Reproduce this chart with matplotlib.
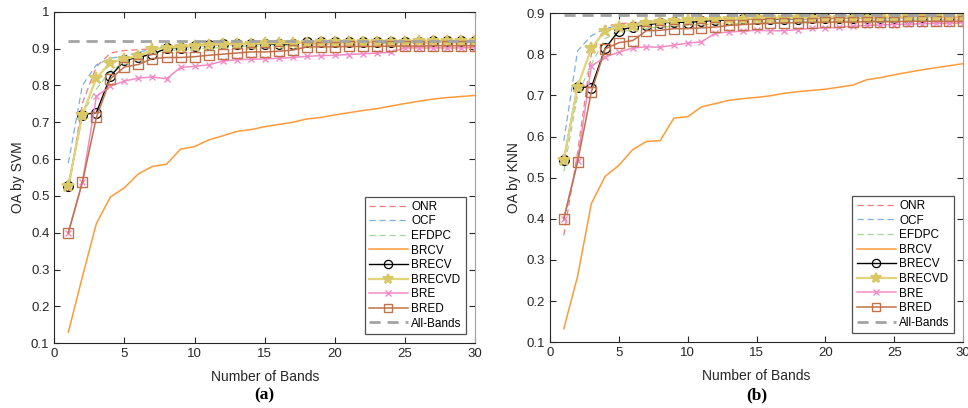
import matplotlib
matplotlib.use("Agg")
import matplotlib.pyplot as plt
import numpy as np

plt.rcParams['font.family'] = ['Liberation Sans', 'DejaVu Sans']

bands = list(range(1, 31))
methods = ["ONR", "OCF", "EFDPC", "BRCV", "BRECV", "BRECVD", "BRE", "BRED"]

# (a) overall accuracy with SVM
svm_onr = [0.51, 0.752, 0.851, 0.888, 0.895, 0.897, 0.900, 0.903, 0.905, 0.907,
           0.908, 0.909, 0.910, 0.911, 0.912, 0.913, 0.914, 0.915, 0.916, 0.917,
           0.917, 0.918, 0.918, 0.919, 0.919, 0.920, 0.920, 0.920, 0.921, 0.921]
svm_ocf = [0.589, 0.800, 0.856, 0.874, 0.880, 0.890, 0.900, 0.905, 0.906, 0.908,
           0.909, 0.910, 0.911, 0.912, 0.913, 0.914, 0.915, 0.916, 0.917, 0.917,
           0.918, 0.918, 0.919, 0.919, 0.920, 0.920, 0.920, 0.921, 0.921, 0.921]
svm_efdpc = [0.53, 0.722, 0.79, 0.84, 0.862, 0.875, 0.888, 0.893, 0.898, 0.900,
             0.901, 0.903, 0.905, 0.906, 0.907, 0.908, 0.909, 0.910, 0.911, 0.912,
             0.912, 0.913, 0.913, 0.914, 0.914, 0.915, 0.915, 0.915, 0.916, 0.916]
svm_brcv = [0.13, 0.28, 0.425, 0.497, 0.522, 0.560, 0.580, 0.586, 0.627, 0.634,
            0.652, 0.663, 0.675, 0.680, 0.688, 0.694, 0.700, 0.709, 0.713, 0.720,
            0.726, 0.732, 0.737, 0.744, 0.751, 0.757, 0.763, 0.767, 0.770, 0.773]
svm_brecv = [0.527, 0.721, 0.726, 0.825, 0.868, 0.877, 0.885, 0.901, 0.903, 0.908,
             0.911, 0.912, 0.912, 0.912, 0.912, 0.912, 0.913, 0.917, 0.917, 0.917,
             0.917, 0.918, 0.918, 0.919, 0.919, 0.919, 0.920, 0.920, 0.920, 0.920]
svm_brecvd = [0.527, 0.721, 0.820, 0.862, 0.872, 0.880, 0.898, 0.902, 0.905, 0.908,
              0.910, 0.912, 0.912, 0.913, 0.914, 0.915, 0.915, 0.916, 0.917, 0.917,
              0.918, 0.918, 0.919, 0.919, 0.919, 0.920, 0.920, 0.920, 0.920, 0.920]
svm_bre = [0.40, 0.537, 0.770, 0.798, 0.812, 0.820, 0.823, 0.818, 0.849, 0.852,
           0.856, 0.866, 0.870, 0.871, 0.872, 0.874, 0.876, 0.879, 0.881, 0.882,
           0.884, 0.886, 0.888, 0.890, 0.902, 0.902, 0.902, 0.902, 0.902, 0.903]
svm_bred = [0.40, 0.537, 0.713, 0.818, 0.850, 0.857, 0.873, 0.876, 0.876, 0.878,
            0.882, 0.885, 0.888, 0.891, 0.891, 0.893, 0.896, 0.905, 0.905, 0.905,
            0.906, 0.906, 0.906, 0.907, 0.907, 0.907, 0.908, 0.908, 0.908, 0.908]
svm_all = 0.922

# (b) overall accuracy with KNN
knn_onr = [0.36, 0.56, 0.80, 0.868, 0.874, 0.877, 0.879, 0.881, 0.882, 0.883,
           0.884, 0.885, 0.885, 0.886, 0.886, 0.887, 0.887, 0.888, 0.888, 0.888,
           0.889, 0.889, 0.889, 0.890, 0.890, 0.890, 0.890, 0.891, 0.891, 0.891]
knn_ocf = [0.589, 0.808, 0.845, 0.862, 0.870, 0.875, 0.878, 0.880, 0.882, 0.883,
           0.884, 0.885, 0.886, 0.887, 0.887, 0.888, 0.888, 0.889, 0.889, 0.890,
           0.890, 0.890, 0.891, 0.891, 0.891, 0.892, 0.892, 0.892, 0.892, 0.892]
knn_efdpc = [0.515, 0.70, 0.775, 0.838, 0.855, 0.858, 0.862, 0.866, 0.868, 0.870,
             0.872, 0.873, 0.874, 0.875, 0.876, 0.877, 0.878, 0.879, 0.879, 0.880,
             0.881, 0.881, 0.882, 0.882, 0.883, 0.883, 0.884, 0.884, 0.885, 0.885]
knn_brcv = [0.133, 0.26, 0.437, 0.503, 0.530, 0.568, 0.588, 0.590, 0.645, 0.648,
            0.672, 0.680, 0.688, 0.692, 0.695, 0.699, 0.705, 0.709, 0.712, 0.715,
            0.720, 0.725, 0.738, 0.743, 0.750, 0.756, 0.762, 0.767, 0.772, 0.777]
knn_brecv = [0.543, 0.721, 0.719, 0.814, 0.857, 0.867, 0.871, 0.876, 0.878, 0.877,
             0.880, 0.882, 0.883, 0.885, 0.885, 0.885, 0.886, 0.886, 0.887, 0.887,
             0.887, 0.888, 0.889, 0.889, 0.889, 0.889, 0.890, 0.890, 0.890, 0.890]
knn_brecvd = [0.543, 0.721, 0.814, 0.857, 0.866, 0.868, 0.876, 0.878, 0.880, 0.882,
              0.884, 0.885, 0.886, 0.886, 0.887, 0.887, 0.888, 0.888, 0.888, 0.889,
              0.889, 0.889, 0.889, 0.890, 0.890, 0.890, 0.890, 0.890, 0.890, 0.890]
knn_bre = [0.40, 0.54, 0.771, 0.793, 0.805, 0.815, 0.818, 0.817, 0.822, 0.827,
           0.830, 0.851, 0.854, 0.856, 0.858, 0.857, 0.857, 0.860, 0.863, 0.864,
           0.865, 0.868, 0.870, 0.871, 0.872, 0.873, 0.874, 0.875, 0.875, 0.876]
knn_bred = [0.40, 0.538, 0.708, 0.813, 0.828, 0.833, 0.857, 0.858, 0.862, 0.862,
            0.864, 0.866, 0.870, 0.872, 0.874, 0.875, 0.876, 0.877, 0.877, 0.878,
            0.878, 0.878, 0.879, 0.879, 0.879, 0.880, 0.880, 0.880, 0.880, 0.880]
knn_all = 0.896

styles = {
    "ONR":    dict(color="#ec7d7d", ls=(0, (5, 3)), lw=0.9),
    "OCF":    dict(color="#7db1e2", ls=(0, (5, 3)), lw=0.9),
    "EFDPC":  dict(color="#9fd99a", ls=(0, (5, 3)), lw=0.9),
    "BRCV":   dict(color="#ff9a3a", ls="-", lw=1.1),
    "BRECV":  dict(color="black", ls="-", lw=1.0, marker="o", ms=7,
                   mfc="none", mec="black", mew=0.9),
    "BRECVD": dict(color="#e3d47a", ls="-", lw=1.6, marker="*", ms=9,
                   mfc="#d9c865", mec="#d9c865", mew=1.5),
    "BRE":    dict(color="#f48bc6", ls="-", lw=1.1, marker="x", ms=5,
                   mec="#f48bc6", mew=1.0),
    "BRED":   dict(color="#c0714b", ls="-", lw=1.1, marker="s", ms=6.5,
                   mfc="none", mec="#c0714b", mew=1.0),
}


def draw_panel(ax, series, all_bands, ylabel, ylim, yticks):
    for name, vals in zip(methods, series):
        ax.plot(bands, vals, label=name, **styles[name])
    ax.plot([1, 30], [all_bands, all_bands], color="#a3a3a3",
            ls=(0, (4, 2.5)), lw=2.0, label="All-Bands")
    ax.set_xlim(0, 30)
    ax.set_ylim(*ylim)
    ax.set_xticks([0, 5, 10, 15, 20, 25, 30])
    ax.set_yticks(yticks)
    ax.set_yticklabels([("%g" % t) for t in yticks])
    ax.tick_params(direction="in", top=True, right=True, labelsize=9.5,
                   length=4, color="#262626", labelcolor="#262626")
    for sp in ax.spines.values():
        sp.set_color("#262626")
        sp.set_linewidth(0.8)
    ax.spines["right"].set_color("#a0a0a0")
    ax.set_xlabel("Number of Bands", fontsize=10, color="#262626", labelpad=7)
    ax.set_ylabel(ylabel, fontsize=10, color="#262626", labelpad=4)
    leg = ax.legend(loc="lower right", fontsize=8.5, frameon=True, fancybox=False,
                    borderaxespad=0.8, handlelength=3.3, handletextpad=0.3,
                    labelspacing=0.22, borderpad=0.35, markerscale=0.85)
    leg.get_frame().set_edgecolor("#262626")
    leg.get_frame().set_linewidth(0.9)


fig = plt.figure(figsize=(9.68, 4.08), dpi=100)
ax1 = fig.add_axes([0.0561, 0.159, 0.4347, 0.812])
ax2 = fig.add_axes([0.5682, 0.161, 0.4267, 0.807])

draw_panel(ax1, [svm_onr, svm_ocf, svm_efdpc, svm_brcv, svm_brecv, svm_brecvd,
                 svm_bre, svm_bred], svm_all, "OA by SVM",
           (0.1, 1.0), np.round(np.arange(0.1, 1.01, 0.1), 1))
draw_panel(ax2, [knn_onr, knn_ocf, knn_efdpc, knn_brcv, knn_brecv, knn_brecvd,
                 knn_bre, knn_bred], knn_all, "OA by KNN",
           (0.1, 0.9), np.round(np.arange(0.1, 0.91, 0.1), 1))

fig.text(0.273, 0.02, "(a)", ha="center", fontsize=12.5, fontweight="bold",
         family="Liberation Serif")
fig.text(0.7815, 0.02, "(b)", ha="center", fontsize=12.5, fontweight="bold",
         family="Liberation Serif")

fig.savefig("out.png", dpi=100)
